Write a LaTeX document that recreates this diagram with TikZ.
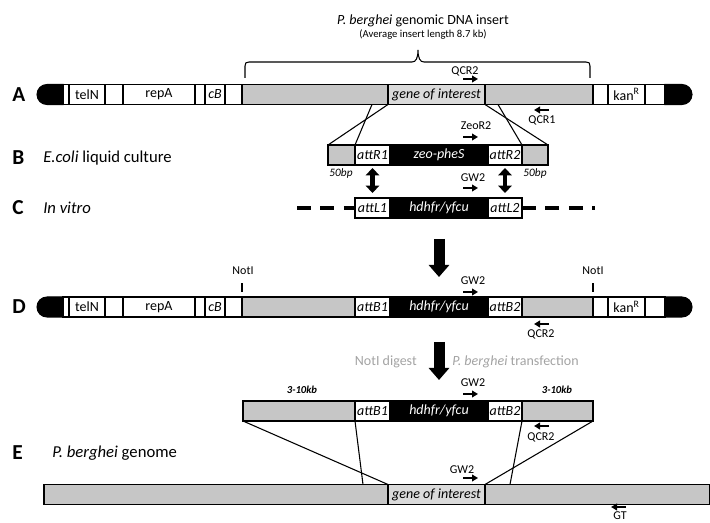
\documentclass[tikz,border=0pt]{standalone}
\usepackage{fontspec}
\setmainfont{Carlito}
\usetikzlibrary{positioning,calc,arrows.meta,shapes.misc}

\definecolor{flank}{HTML}{C6C6C6}
\definecolor{goi}{HTML}{DADADA}
\definecolor{notecol}{HTML}{A3A3A3}

\tikzset{
  seg/.style={draw, line width=0.8pt, inner sep=0pt, outer sep=0pt, minimum height=15pt, fill=white, font=\fontsize{10.5}{12}\selectfont},
  wd/.style={minimum width=#1*0.75pt},
  fl/.style={seg, fill=flank},
  gene/.style={seg, fill=goi, font=\fontsize{10.5}{12}\selectfont\itshape},
  att/.style={seg, font=\fontsize{10.5}{12}\selectfont\itshape},
  blk/.style={seg, fill=black, text=white, font=\fontsize{10.5}{12}\selectfont\itshape},
  capl/.style={rounded rectangle, rounded rectangle right arc=none, draw, fill=black, line width=0.8pt, inner sep=0pt, outer sep=0pt, minimum height=15pt},
  capr/.style={rounded rectangle, rounded rectangle left arc=none, draw, fill=black, line width=0.8pt, inner sep=0pt, outer sep=0pt, minimum height=15pt},
  xline/.style={line width=0.8pt},
  primer/.style={line width=1.2pt, -{Triangle[length=4.5pt,width=5pt]}},
  plabel/.style={font=\fontsize{9}{10}\selectfont, inner sep=0pt},
  sizelab/.style={font=\fontsize{8.5}{9}\selectfont\itshape, inner sep=0pt},
  kblab/.style={font=\fontsize{8}{9}\selectfont\bfseries\itshape, inner sep=0pt},
  rowlab/.style={font=\fontsize{16}{18}\selectfont\bfseries, anchor=west, inner sep=0pt},
  rowtxt/.style={font=\fontsize{12.5}{14}\selectfont, anchor=west, inner sep=0pt},
  note/.style={font=\fontsize{10.5}{12}\selectfont, text=notecol, inner sep=0pt},
  dna/.style={line width=2.3pt, dash pattern=on 10.5pt off 7.1pt},
  dbl/.style={line width=3.5pt, {Triangle[length=5.5pt,width=10pt]}-{Triangle[length=5.5pt,width=10pt]}},
  bigarrow/.style={line width=8.25pt, -{Triangle[length=9pt,width=15pt]}}
}

\begin{document}
\begin{tikzpicture}[x=0.75pt,y=0.75pt,yscale=-1,xscale=1]
\useasboundingbox (0,0) rectangle (710,523);

% insert brace
\node[font=\fontsize{10.5}{12}\selectfont] (ins) at (423,21) {\textit{P. berghei} genomic DNA insert};
\node[font=\fontsize{8}{9}\selectfont] (avg) at (423,35) {(Average insert length 8.7 kb)};
\draw[line width=0.8pt] (245,78) -- (245,66) .. controls (245,63) and (246,62) .. (249,62) -- (412,62) .. controls (416,62) and (418,58) .. (418,50) .. controls (418,58) and (420,62) .. (424,62) -- (586,62) .. controls (589,62) and (590,63) .. (590,66) -- (590,78);

% row A
\node[rowlab] (labA) at (12,95) {A};
\node[capl, wd=26, anchor=west] (capA) at (37,94.5) {};
\node[seg, wd=6, right=0pt of capA] (a1) {};
\node[seg, wd=36, right=0pt of a1] (telA) {telN};
\node[seg, wd=18, right=0pt of telA] (a3) {};
\node[seg, wd=72, right=0pt of a3] (repA) {repA};
\node[seg, wd=10, right=0pt of repA] (a5) {};
\node[att, wd=20, right=0pt of a5] (cbA) {cB};
\node[seg, wd=17, right=0pt of cbA] (a7) {};
\node[fl, wd=146, right=0pt of a7] (flLA) {};
\node[gene, wd=97, right=0pt of flLA] (goiA) {gene of interest};
\node[fl, wd=108, right=0pt of goiA] (flRA) {};
\node[seg, wd=15, right=0pt of flRA] (a10) {};
\node[seg, wd=37, right=0pt of a10] (kanA) {kan\textsuperscript{R}};
\node[seg, wd=20, right=0pt of kanA] (a12) {};
\node[capr, wd=27, right=0pt of a12] (caprA) {};

\node[plabel] (qcr2A) at (465,71) {QCR2};
\coordinate (pA1) at (463,79);
\draw[primer] (pA1) -- ++(15,0);
\coordinate (pA2) at (549,110);
\draw[primer] (pA2) -- ++(-15,0);
\node[plabel] (qcr1A) at (542,120) {QCR1};

% row B
\node[rowlab] (labB) at (12,158) {B};
\node[rowtxt] (txtB) at (43,158) {\textit{E.coli} liquid culture};
\node[fl, wd=27, anchor=west] (flLB) at (328,155) {};
\node[att, wd=35, right=0pt of flLB] (attRa) {attR1};
\node[blk, wd=98, right=0pt of attRa] (zeoB) {zeo-pheS};
\node[att, wd=34, right=0pt of zeoB] (attRb) {attR2};
\node[fl, wd=26, right=0pt of attRb] (flRB) {};
\node[sizelab] (bpL) at (341,173) {50bp};
\node[sizelab] (bpR) at (535,173) {50bp};

\node[plabel] (zeoR2) at (476,126) {ZeoR2};
\coordinate (pB1) at (463,137);
\draw[primer] (pB1) -- ++(15,0);

\draw[xline] (goiA.south west) -- (flLB.north west);
\draw[xline] ($(flLA.south east)+(-16,0)$) -- (attRa.north west);
\draw[xline] (goiA.south east) -- (flRB.north east);
\draw[xline] ($(flRA.south west)+(13,0)$) -- (attRb.north east);

% row C
\node[rowlab] (labC) at (12,208) {C};
\node[rowtxt] (txtC) at (43,208) {\textit{In vitro}};
\node[att, wd=35, anchor=west] (attLa) at (355,208) {attL1};
\node[blk, wd=98, right=0pt of attLa] (hdhC) {hdhfr/yfcu};
\node[att, wd=34, right=0pt of hdhC] (attLb) {attL2};
\coordinate (dL) at (297,208);
\coordinate (dR) at (595,208);
\draw[dna] (dL) -- (attLa.west);
\draw[dna] (attLb.east) -- (dR);

\node[plabel] (gw2C) at (473,178) {GW2};
\coordinate (pC1) at (463,188);
\draw[primer] (pC1) -- ++(15,0);

\draw[dbl, shorten <=2.25pt, shorten >=3.75pt] (attRa.south) -- (attLa.north);
\draw[dbl, shorten <=2.25pt, shorten >=3.75pt] (attRb.south) -- (attLb.north);

% row D
\node[rowlab] (labD) at (12,307) {D};
\node[capl, wd=26, anchor=west] (capD) at (37,307) {};
\node[seg, wd=6, right=0pt of capD] (d1) {};
\node[seg, wd=36, right=0pt of d1] (telD) {telN};
\node[seg, wd=18, right=0pt of telD] (d3) {};
\node[seg, wd=72, right=0pt of d3] (repD) {repA};
\node[seg, wd=10, right=0pt of repD] (d5) {};
\node[att, wd=20, right=0pt of d5] (cbD) {cB};
\node[seg, wd=17, right=0pt of cbD] (d7) {};
\node[fl, wd=113, right=0pt of d7] (flLD) {};
\node[att, wd=35, right=0pt of flLD] (attBaD) {attB1};
\node[blk, wd=98, right=0pt of attBaD] (hdhD) {hdhfr/yfcu};
\node[att, wd=34, right=0pt of hdhD] (attBbD) {attB2};
\node[fl, wd=71, right=0pt of attBbD] (flRD) {};
\node[seg, wd=15, right=0pt of flRD] (d10) {};
\node[seg, wd=37, right=0pt of d10] (kanD) {kan\textsuperscript{R}};
\node[seg, wd=20, right=0pt of kanD] (d12) {};
\node[capr, wd=27, right=0pt of d12] (caprD) {};

\node[plabel] (notL) at (243,271) {NotI};
\node[plabel] (notR) at (593,271) {NotI};
\draw[xline] ($(flLD.north west)+(0,-5)$) -- ($(flLD.north west)+(0,-14)$);
\draw[xline] ($(flRD.north east)+(0,-5)$) -- ($(flRD.north east)+(0,-14)$);

\node[plabel] (gw2D) at (473,281) {GW2};
\coordinate (pD1) at (463,292);
\draw[primer] (pD1) -- ++(15,0);
\coordinate (pD2) at (549,324);
\draw[primer] (pD2) -- ++(-15,0);
\node[plabel] (qcr2D) at (541,334) {QCR2};

\draw[bigarrow, shorten <=15.75pt, shorten >=15pt] (hdhC.south) -- (hdhD.north);

% row E
\node[note, anchor=east] (digest) at (417,362) {NotI digest};
\node[note, anchor=west] (transf) at (452,362) {\textit{P. berghei} transfection};

\node[fl, wd=112, anchor=west] (flLE) at (243,411) {};
\node[att, wd=35, right=0pt of flLE] (attBaE) {attB1};
\node[blk, wd=98, right=0pt of attBaE] (hdhE) {hdhfr/yfcu};
\node[att, wd=34, right=0pt of hdhE] (attBbE) {attB2};
\node[fl, wd=71, right=0pt of attBbE] (flRE) {};
\node[kblab] (kbL) at (302,390) {3-10kb};
\node[kblab] (kbR) at (557,390) {3-10kb};

\draw[bigarrow, shorten <=18.75pt, shorten >=15.75pt] (hdhD.south) -- (hdhE.north);

\node[plabel] (gw2E) at (473,383) {GW2};
\coordinate (pE1) at (463,394);
\draw[primer] (pE1) -- ++(15,0);
\coordinate (pE2) at (549,426);
\draw[primer] (pE2) -- ++(-15,0);
\node[plabel] (qcr2E) at (541,437) {QCR2};

\node[rowlab] (labE) at (12,453) {E};
\node[rowtxt] (txtE) at (52,453) {\textit{P. berghei} genome};

\node[fl, wd=344, anchor=west] (genL) at (44,494.5) {};
\node[gene, wd=97, right=0pt of genL] (goiE) {gene of interest};
\node[fl, wd=225, right=0pt of goiE] (genR) {};

\draw[xline] (flLE.south west) -- (goiE.north west);
\draw[xline] (attBaE.south west) -- ($(genL.north east)+(-25,0)$);
\draw[xline] (attBbE.south east) -- ($(genR.north west)+(25,0)$);
\draw[xline] (flRE.south east) -- (goiE.north east);

\node[plabel] (gw2G) at (462,470) {GW2};
\coordinate (pG1) at (463,478);
\draw[primer] (pG1) -- ++(15,0);
\coordinate (pG2) at (626,507);
\draw[primer] (pG2) -- ++(-15,0);
\node[plabel] (gtG) at (620,516) {GT};
\end{tikzpicture}
\end{document}
